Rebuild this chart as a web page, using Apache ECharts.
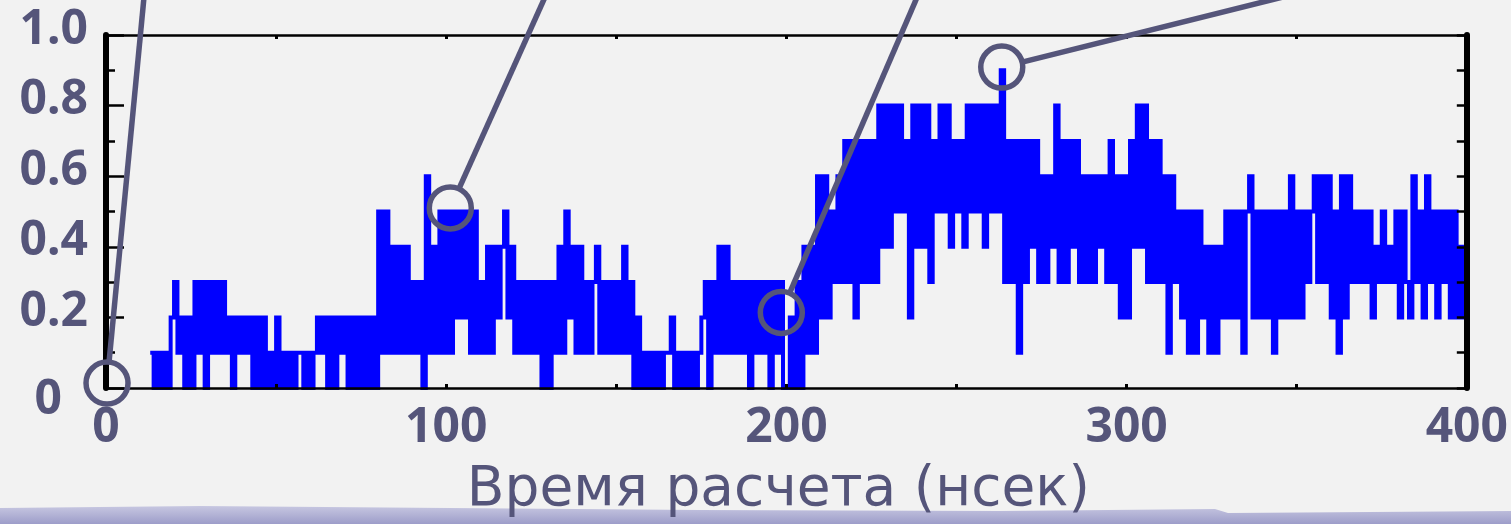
<!DOCTYPE html>
<html>
<head>
<meta charset="utf-8">
<script src="https://cdn.jsdelivr.net/npm/echarts@6/dist/echarts.min.js"></script>
<style>
  html, body { margin: 0; padding: 0; background: #f2f2f2; }
  #chart { width: 1511px; height: 524px; }
</style>
</head>
<body>
<div id="chart"></div>
<script>
// Occupancy trace, one sample per ns starting at sampleStart
const sampleStart = 13;
const occupancy = [
  0.1,0,0.1,0,0.1,0,0.2,                       // 13-19
  0.3,0.1,0.2,0,0.2,0,0.3,0.1,0.3,0,           // 20-29
  0.3,0.1,0.3,0.1,0.3,0.1,0.2,0,0.2,0.1,       // 30-39
  0.2,0.1,0.2,0,0.2,0,0.2,0,0.1,0,             // 40-49
  0.2,0,0.1,0,0.1,0,0.1,0.1,0,0.1,             // 50-59
  0,0.1,0.2,0.1,0.2,0,0.2,0,0.2,0.1,           // 60-69
  0.2,0,0.2,0,0.2,0,0.2,0,0.2,0,               // 70-79
  0.5,0.1,0.5,0.1,0.4,0.1,0.4,0.1,0.4,0.1,     // 80-89
  0.3,0.1,0.3,0,0.6,0.1,0.4,0.1,0.5,0.1,       // 90-99
  0.5,0.1,0.5,0.2,0.5,0.2,0.5,0.1,0.5,0.1,     // 100-109
  0.3,0.1,0.4,0.1,0.4,0.2,0.4,0.5,0.2,0.4,     // 110-119
  0.1,0.3,0.1,0.3,0.1,0.3,0.1,0.3,0,0.3,       // 120-129
  0,0.3,0.1,0.4,0.1,0.5,0.2,0.4,0.1,0.4,       // 130-139
  0.1,0.3,0.1,0.3,0.4,0.1,0.3,0.1,0.3,0.1,     // 140-149
  0.3,0.1,0.4,0.1,0.3,0,0.2,0,0.1,0,           // 150-159
  0.1,0,0.1,0,0.1,0.1,0.2,0,0.1,0,             // 160-169
  0.1,0,0.1,0,0.1,0.2,0.3,0,0.3,0.1,           // 170-179
  0.4,0.1,0.4,0.1,0.3,0.1,0.3,0.1,0.3,0,       // 180-189
  0.3,0.1,0.3,0.1,0.3,0,0.3,0.1,0.3,0,         // 190-199
  0,0.2,0,0.3,0,0.4,0.1,0.4,0.1,0.6,           // 200-209
  0.2,0.6,0.2,0.5,0.3,0.6,0.3,0.7,0.3,0.7,     // 210-219
  0.2,0.7,0.3,0.7,0.3,0.7,0.3,0.8,0.4,0.8,     // 220-229
  0.4,0.8,0.5,0.8,0.5,0.7,0.2,0.8,0.4,0.8,     // 230-239
  0.4,0.8,0.3,0.7,0.5,0.8,0.5,0.8,0.4,0.7,     // 240-249
  0.5,0.7,0.4,0.8,0.5,0.8,0.5,0.8,0.4,0.8,     // 250-259
  0.5,0.8,0.5,0.9,0.3,0.7,0.3,0.7,0.1,0.7,     // 260-269
  0.3,0.7,0.4,0.7,0.3,0.6,0.3,0.6,0.4,0.8,     // 270-279
  0.3,0.7,0.3,0.7,0.4,0.7,0.3,0.6,0.3,0.6,     // 280-289
  0.3,0.6,0.4,0.6,0.3,0.7,0.3,0.6,0.2,0.6,     // 290-299
  0.2,0.7,0.4,0.8,0.4,0.8,0.3,0.7,0.3,0.7,     // 300-309
  0.3,0.6,0.1,0.6,0.3,0.5,0.2,0.5,0.1,0.5,     // 310-319
  0.1,0.5,0.2,0.4,0.1,0.4,0.1,0.4,0.2,0.5,     // 320-329
  0.2,0.5,0.2,0.5,0.1,0.5,0.6,0.2,0.5,0.2,     // 330-339
  0.5,0.2,0.5,0.1,0.5,0.2,0.5,0.2,0.6,0.2,     // 340-349
  0.5,0.2,0.5,0.3,0.5,0.6,0.3,0.6,0.3,0.6,     // 350-359
  0.2,0.5,0.1,0.6,0.2,0.6,0.3,0.5,0.3,0.5,     // 360-369
  0.3,0.5,0.2,0.4,0.3,0.5,0.3,0.4,0.3,0.5,     // 370-379
  0.2,0.5,0.3,0.2,0.6,0.3,0.5,0.2,0.6,0.3,     // 380-389
  0.5,0.2,0.5,0.3,0.5,0.2,0.5,0.2,0.4,0.2,     // 390-399
  0.5                                          // 400
];

const xTicks = [0, 100, 200, 300, 400];
const yTickLabels = ['0', '0.2', '0.4', '0.6', '0.8', '1.0'];
const xTitle = 'Время расчета (нсек)';

// Highlighted states (circle centre) and where their pointer lines leave the frame
const calloutCenters = [[0.3, 0.014], [101.2, 0.51], [198.5, 0.214], [263.3, 0.909]];
const calloutTails = [[11.1, 1.1], [128.7, 1.1], [238.1, 1.1], [342.8, 1.1]];

const ink = '#55557a';
const labelFont = { color: ink, fontFamily: 'Noto Sans', fontWeight: 'bold', fontSize: 48 };

const chart = echarts.init(document.getElementById('chart'), null, { renderer: 'canvas' });

const seriesData = occupancy.map((v, i) => [sampleStart + i, v]);

function frameX(position) {
  return {
    type: 'value', position: position, z: 10,
    min: xTicks[0], max: xTicks[xTicks.length - 1], interval: xTicks[1] - xTicks[0],
    axisLine: { onZero: false, lineStyle: { color: '#000', width: 2.5 } },
    axisTick: { inside: true, length: 4, lineStyle: { color: '#000', width: 3 } },
    minorTick: { show: true, splitNumber: 2, length: 4, lineStyle: { color: '#000', width: 3 } },
    splitLine: { show: false }
  };
}

const bottomX = Object.assign(frameX('bottom'), {
  axisLabel: Object.assign({ margin: 16 }, labelFont),
  name: xTitle, nameLocation: 'middle', nameGap: 75,
  nameTextStyle: { color: ink, fontFamily: 'DejaVu Sans', fontSize: 55, padding: [0, 16, 0, 0] }
});
const topX = Object.assign(frameX('top'), { axisLabel: { show: false } });

chart.setOption({
  backgroundColor: '#f2f2f2',
  animation: false,
  grid: { left: 106, right: 41, top: 35, bottom: 136, containLabel: false },
  xAxis: [bottomX, topX],
  yAxis: [
    {
      type: 'value', position: 'left', z: 10,
      min: 0, max: 1, interval: 0.2,
      axisLine: { onZero: false, lineStyle: { color: '#000', width: 6 } },
      axisTick: { inside: true, length: 18, lineStyle: { color: '#000', width: 2.5 } },
      minorTick: { show: true, splitNumber: 2, length: 9, lineStyle: { color: '#000', width: 2.5 } },
      splitLine: { show: false },
      axisLabel: {
        margin: 18,
        formatter: v => {
          const idx = Math.round(v * 5);
          return idx === 0 ? '{z|' + yTickLabels[0] + '}' : '{n|' + yTickLabels[idx] + '}';
        },
        rich: {
          n: Object.assign({ padding: [0, 0, 10, 0] }, labelFont),
          z: Object.assign({ padding: [24, 26, 0, 0] }, labelFont)
        }
      }
    },
    {
      type: 'value', position: 'right', z: 10,
      min: 0, max: 1, interval: 0.1,
      axisLine: { onZero: false, lineStyle: { color: '#000', width: 6 } },
      axisTick: { inside: true, length: 10, lineStyle: { color: '#000', width: 2.5 } },
      splitLine: { show: false },
      axisLabel: { show: false }
    }
  ],
  series: [{
    type: 'line',
    xAxisIndex: 0, yAxisIndex: 0,
    step: 'end',
    data: seriesData,
    showSymbol: false,
    symbol: 'none',
    z: 2,
    lineStyle: { color: '#0000ff', width: 4, join: 'miter' }
  }]
});

// Lavender swoosh along the bottom edge, then the pointer circles and lines
const graphics = [];
graphics.push({
  type: 'polygon', z: 0,
  shape: { points: [[0, 508], [200, 506], [450, 508], [700, 510], [1000, 511], [1215, 509], [1228, 513], [1511, 511], [1511, 524], [0, 524]] },
  style: {
    fill: { type: 'linear', x: 0, y: 0, x2: 0, y2: 1,
      colorStops: [{ offset: 0, color: '#c7c7e1' }, { offset: 1, color: '#9d9dc9' }] }
  }
});
calloutCenters.forEach((c, i) => {
  const p = chart.convertToPixel({ seriesIndex: 0 }, c);
  const t = chart.convertToPixel({ seriesIndex: 0 }, calloutTails[i]);
  const dx = t[0] - p[0], dy = t[1] - p[1], d = Math.hypot(dx, dy);
  const r = 21;
  graphics.push({
    type: 'circle', z: 100,
    shape: { cx: p[0], cy: p[1], r: r },
    style: { fill: 'none', stroke: ink, lineWidth: 5.5 }
  });
  graphics.push({
    type: 'line', z: 100,
    shape: { x1: p[0] + dx / d * r, y1: p[1] + dy / d * r, x2: t[0] + dx / d * 30, y2: t[1] + dy / d * 30 },
    style: { stroke: ink, lineWidth: 5.5 }
  });
});
chart.setOption({ graphic: graphics });
</script>
</body>
</html>
